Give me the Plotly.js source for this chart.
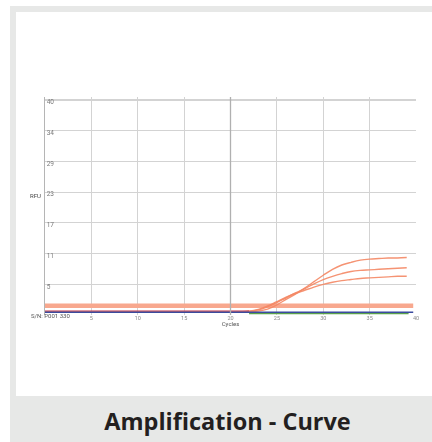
<!DOCTYPE html>
<html>
<head>
<meta charset="utf-8">
<script src="https://cdn.plot.ly/plotly-3.0.1.min.js"></script>
<style>
  html, body { margin:0; padding:0; width:432px; height:442px; background:#ffffff; overflow:hidden; }
  #frame { position:absolute; left:10px; top:6px; width:422px; height:436px; background:#e7e8e7; }
  #card { position:absolute; left:16px; top:12px; width:416px; height:384px; background:#ffffff; }
  #chart { position:absolute; left:0; top:0; width:416px; height:384px; filter: blur(0.35px); }
  #caption { position:absolute; left:10px; top:396px; width:422px; height:46px; text-align:center;
             font-family:"Open Sans", sans-serif; font-weight:700; font-size:23.5px; color:#231f20;
             line-height:46px; padding-left:13px; padding-top:2px; box-sizing:border-box; white-space:nowrap; }
</style>
</head>
<body>
<div id="frame"></div>
<div id="card"><div id="chart"></div></div>
<div id="caption">Amplification - Curve</div>
<script>
// ---- data ----
const cycles = [0,1,2,3,4,5,6,7,8,9,10,11,12,13,14,15,16,17,18,19,20,21,22,23,24,25,26,27,28,29,30,31,32,33,34,35,36,37,38,39];
const curveA = [0.55,0.55,0.55,0.55,0.55,0.55,0.55,0.55,0.55,0.55,0.55,0.55,0.55,0.55,0.55,0.55,0.55,0.55,0.55,0.55,0.58,0.6,0.65,0.75,1.1,1.9,2.9,3.9,5.0,6.2,7.4,8.5,9.3,9.8,10.2,10.4,10.5,10.6,10.6,10.7];
const curveB = [0.55,0.55,0.55,0.55,0.55,0.55,0.55,0.55,0.55,0.55,0.55,0.55,0.55,0.55,0.55,0.55,0.55,0.55,0.55,0.55,0.58,0.6,0.65,0.95,1.5,2.3,3.2,4.1,4.9,5.8,6.6,7.2,7.7,8.1,8.3,8.4,8.5,8.6,8.7,8.8];
const curveC = [0.55,0.55,0.55,0.55,0.55,0.55,0.55,0.55,0.55,0.55,0.55,0.55,0.55,0.55,0.55,0.55,0.55,0.55,0.55,0.55,0.58,0.62,0.7,1.05,1.7,2.5,3.3,4.0,4.6,5.2,5.7,6.1,6.4,6.6,6.8,6.9,7.0,7.1,7.2,7.2];
const thresholdX = [0, 39.7];
const thresholdY = [1.7, 1.7];
const blueX = [0, 39.7];
const blueY = [0.5, 0.5];
const redX = [0, 22];
const redY = [0.75, 0.75];
const greenX = [22, 39.2];
const greenY = [0.3, 0.3];
const yTickVals = [5.71, 11.43, 17.14, 22.86, 28.57, 34.29, 40];
const yTickText = ["5", "11", "17", "23", "29", "34", "40"];
const xTickVals = [5, 10, 15, 20, 25, 30, 35, 40];
const xTickText = ["5", "10", "15", "20", "25", "30", "35", "40"];

const orange = 'rgba(244,135,100,0.9)';
const traces = [
  {x: thresholdX, y: thresholdY, mode:'lines', line:{color:'#f8a88e', width:4.5}},
  {x: cycles, y: curveA, mode:'lines', line:{color:orange, width:1.4, shape:'spline'}},
  {x: cycles, y: curveB, mode:'lines', line:{color:orange, width:1.4, shape:'spline'}},
  {x: cycles, y: curveC, mode:'lines', line:{color:orange, width:1.4, shape:'spline'}},
  {x: redX, y: redY, mode:'lines', line:{color:'#c3394d', width:1}},
  {x: greenX, y: greenY, mode:'lines', line:{color:'#5ba24c', width:1.6}},
  {x: blueX, y: blueY, mode:'lines', line:{color:'#3a4b9f', width:1.6}}
];

const layout = {
  width: 416, height: 384,
  margin: {l:29, r:16, t:85, b:81},
  paper_bgcolor:'#ffffff', plot_bgcolor:'#ffffff',
  showlegend:false,
  font:{family:'Roboto, sans-serif', size:6, color:'#777777'},
  xaxis: {
    range:[0,40], tickmode:'array', tickvals:xTickVals, ticktext:xTickText,
    showgrid:true, gridcolor:'#d3d3d3', gridwidth:1.2, zeroline:false,
    showline:false, ticks:'', tickfont:{size:5.5, color:'#8a8a8a'}, ticklabelstandoff:-2,
    title:{text:'Cycles', font:{size:6, color:'#555555'}, standoff:0}
  },
  yaxis: {
    range:[0,40.56], tickmode:'array', tickvals:yTickVals, ticktext:yTickText,
    showgrid:true, gridcolor:'#d3d3d3', gridwidth:1.2, zeroline:false,
    showline:true, linecolor:'#b5b5b5', linewidth:1.2, ticks:'',
    ticklabelposition:'inside', ticklabeloverflow:'allow', ticklabelshift:2,
    tickfont:{size:6.5, color:'#7a7a7a'}
  },
  shapes: [
    {type:'line', xref:'x', yref:'paper', x0:20, x1:20, y0:0, y1:1, line:{color:'#b0b0b0', width:1.3}}
  ],
  annotations: [
    {xref:'paper', yref:'paper', x:-0.006, y:0.55, text:'RFU', showarrow:false, xanchor:'right', font:{size:6, color:'#444444'}},
    {xref:'paper', yref:'paper', x:-0.042, y:0.0, text:'S/N: P001 330', showarrow:false, xanchor:'left', yanchor:'middle', font:{size:6, color:'#555555'}}
  ]
};

Plotly.newPlot('chart', traces, layout, {displayModeBar:false, staticPlot:true});
</script>
</body>
</html>
